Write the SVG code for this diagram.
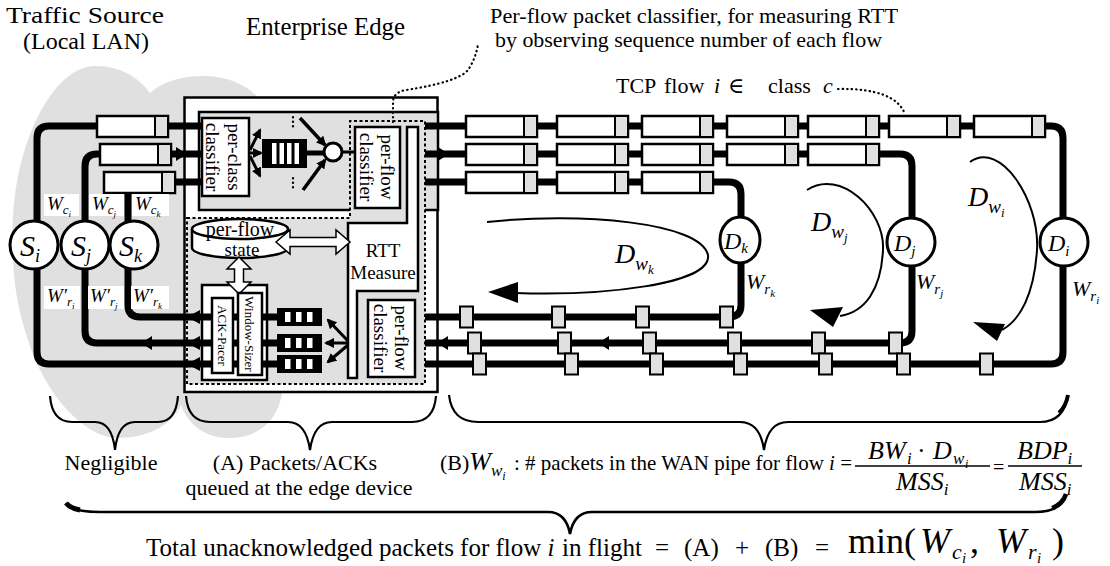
<svg xmlns="http://www.w3.org/2000/svg" width="1110" height="566" viewBox="0 0 1110 566" font-family="'Liberation Serif','Times New Roman',serif">
<defs>
<style>
text{font-family:'Liberation Serif','Times New Roman','DejaVu Serif',serif;fill:#000}
.i{font-style:italic}
.n{font-style:normal}
.ln{fill:none;stroke:#000;stroke-width:7;stroke-linejoin:round}
.ln5{fill:none;stroke:#000;stroke-width:5}
.thin{fill:none;stroke:#000;stroke-width:3}
.box{fill:#fff;stroke:#000;stroke-width:2.5}
.pk{fill:#fff;stroke:#000;stroke-width:2.5}
.pkg{fill:#e0e0e0;stroke:#000;stroke-width:2}
.gr{fill:#e0e0e0}
.dot{fill:none;stroke:#000;stroke-width:2.2;stroke-dasharray:0.5 4;stroke-linecap:round}
.dash{stroke:#000;stroke-width:2;stroke-dasharray:3 2.5}
.circ{fill:#fff;stroke:#000;stroke-width:3}
.cv{fill:none;stroke:#000;stroke-width:2}
.br{fill:none;stroke:#000;stroke-width:2.2}
.hol{fill:#fff;stroke:#000;stroke-width:1.5}
.lbl{fill:#fff}
.q{fill:#000}
.slot{fill:#fff}
</style>
<marker id="ah" viewBox="0 0 10 10" refX="8" refY="5" markerWidth="10" markerHeight="10" markerUnits="userSpaceOnUse" orient="auto"><path d="M0,0 L10,5 L0,10 z" fill="#000"/></marker>
<g id="pkt"><rect width="71" height="21" class="pk"/><rect x="58" width="13" height="21" class="pkg"/></g>
<rect id="ak" width="13" height="21" class="pkg"/>
</defs>
<rect width="1110" height="566" fill="#fff"/>

<!-- cloud (Local LAN) -->
<path class="gr" d="M13,250 C8,150 52,66 95,66 C122,66 140,79 150,93 C162,81 185,75 208,76 C250,79 278,105 282,160 L283,380 C283,420 258,438 230,438 C205,438 188,425 181,405 C172,425 148,438 118,438 C85,438 45,395 28,340 C16,305 13,275 13,250 Z"/>

<!-- enterprise edge device frame -->
<g id="edge-device">
<rect x="184.5" y="97.5" width="253" height="294.5" class="box"/>
<rect x="199" y="112" width="239" height="98" fill="#e0e0e0" stroke="#000" stroke-width="2.5"/>
<path d="M187,218 H350 V121 H425 V384 H187 Z" fill="#e0e0e0" class="dash"/>
<rect x="202" y="285" width="65" height="95" class="box"/>
</g>

<g id="connectors">
<path class="ln" d="M37,221 V138 Q37,126 49,126 H202"/>
<path class="ln" d="M85,221 V166 Q85,154 97,154 H202"/>
<path class="ln" d="M128,221 V193"/>
<path class="ln" d="M170,182 H202"/>
<path class="ln" d="M277,364 H49 Q37,364 37,352 V269"/>
<path class="ln" d="M277,343 H97 Q85,343 85,331 V269"/>
<path class="ln" d="M277,317 H140 Q128,317 128,305 V269"/>
<path class="ln" d="M425,126 H1051 Q1063,126 1063,138 V352 Q1063,364 1051,364 H425"/>
<path class="ln" d="M425,154 H900 Q912,154 912,166 V331 Q912,343 900,343 H425"/>
<path class="ln" d="M425,182 H729 Q741,182 741,194 V305 Q741,317 729,317 H425"/>
<polygon points="176,147 187,154 176,161"/>
<polygon points="438,147 449,154 438,161"/>
<polygon points="437,343 448,336 448,350"/>
<polygon points="598,343 609,336 609,350"/>
<polygon points="141,343 152,336 152,350"/>
<polygon points="187,317 200,310 200,324"/>
<polygon points="187,343 200,336 200,350"/>
<polygon points="187,364 200,357 200,371"/>
<path class="thin" d="M250,150 L260,130" marker-end="url(#ah)"/>
<path class="thin" d="M250,153 H261" marker-end="url(#ah)"/>
<path class="thin" d="M250,156 L260,176" marker-end="url(#ah)"/>
<path class="ln5" d="M305,153 H326"/>
<path fill="none" stroke="#000" stroke-width="3.5" d="M300,118 L325,145" marker-end="url(#ah)"/>
<path fill="none" stroke="#000" stroke-width="3.5" d="M303,190 L325,160" marker-end="url(#ah)"/>
<path class="thin" d="M342,152 H355"/>
<path class="dot" d="M293,117 V129 M293,178 V190"/>
<path class="thin" d="M348,341 L328,320" marker-end="url(#ah)"/>
<path class="thin" d="M348,343 H326" marker-end="url(#ah)"/>
<path class="thin" d="M348,345 L328,362" marker-end="url(#ah)"/>
<path class="cv" d="M487,222 C580,212 700,222 708,255 C712,285 600,296 515,293"/>
<polygon points="488,292 518,282 518,303"/>
<path class="cv" d="M807,190 C840,168 885,210 883,250 C881,290 865,312 840,316"/>
<polygon points="810,310 843,307 833,327"/>
<path class="cv" d="M970,162 C1000,140 1040,200 1037,250 C1034,295 1020,320 1002,330"/>
<polygon points="973,322 1005,324 997,341"/>
<path class="dot" d="M393,122 V101 Q394,92 406,90 Q458,82 468,70 Q476,58 478,44"/>
<path class="dot" d="M838,89 Q895,88 905,114"/>
<path class="br" d="M50,396 Q52,422 72,422 L95,422 Q112,422 115,450 Q118,422 135,422 L158,422 Q176,422 178,396"/>
<path class="br" d="M186,396 Q188,422 210,422 L288,422 Q306,422 310,450 Q314,422 332,422 L412,422 Q434,422 436,396"/>
<path class="br" d="M449,395 Q452,422 478,422 L740,422 Q760,422 764,450 Q768,422 788,422 L1040,422 Q1064,422 1068,395"/>
<path fill="none" stroke="#000" stroke-width="4" d="M1059,413 Q1066,406 1068,395"/>
<path fill="none" stroke="#000" stroke-width="2.6" d="M66,503 Q72,512 100,512 L548,512 Q566,512 570,534 Q574,512 592,512 L1035,512 Q1062,512 1066,494"/>
<path fill="none" stroke="#000" stroke-width="5" d="M66,503 Q70,508 80,510"/>
<path fill="none" stroke="#000" stroke-width="4.5" d="M1052,508 Q1063,504 1066,494"/>
</g>

<g id="src-packets">
<use href="#pkt" x="97" y="116"/>
<use href="#pkt" x="100" y="144"/>
<use href="#pkt" x="104" y="172"/>
</g>

<g id="wan-packets">
<use href="#pkt" x="466" y="116"/><use href="#pkt" x="557" y="116"/><use href="#pkt" x="642" y="116"/><use href="#pkt" x="727" y="116"/><use href="#pkt" x="808" y="116"/><use href="#pkt" x="889" y="116"/><use href="#pkt" x="974" y="116"/>
<use href="#pkt" x="466" y="144"/><use href="#pkt" x="557" y="144"/><use href="#pkt" x="642" y="144"/><use href="#pkt" x="727" y="144"/><use href="#pkt" x="808" y="144"/>
<use href="#pkt" x="466" y="172"/><use href="#pkt" x="557" y="172"/><use href="#pkt" x="642" y="172"/>
</g>

<g id="wan-acks">
<use href="#ak" x="460" y="306.5"/><use href="#ak" x="552" y="306.5"/><use href="#ak" x="636" y="306.5"/><use href="#ak" x="720" y="306.5"/>
<use href="#ak" x="468" y="332.5"/><use href="#ak" x="558" y="332.5"/><use href="#ak" x="643" y="332.5"/><use href="#ak" x="728" y="332.5"/><use href="#ak" x="812" y="332.5"/><use href="#ak" x="889" y="332.5"/>
<use href="#ak" x="473" y="353.5"/><use href="#ak" x="565" y="353.5"/><use href="#ak" x="650" y="353.5"/><use href="#ak" x="734" y="353.5"/><use href="#ak" x="819" y="353.5"/><use href="#ak" x="897" y="353.5"/><use href="#ak" x="980" y="353.5"/>
</g>

<g id="source-i"><circle cx="34" cy="245" r="24" class="circ"/><text x="20" y="256" font-size="30" class="i">S<tspan font-size="18" dy="6">i</tspan></text></g>
<g id="source-j"><circle cx="85" cy="245" r="24" class="circ"/><text x="71" y="256" font-size="30" class="i">S<tspan font-size="18" dy="6">j</tspan></text></g>
<g id="source-k"><circle cx="134" cy="245" r="24" class="circ"/><text x="119" y="256" font-size="30" class="i">S<tspan font-size="18" dy="6">k</tspan></text></g>

<g id="source-labels">
<rect x="44" y="194" width="35" height="22" class="lbl"/><text x="47" y="210" font-size="19" class="i">W<tspan font-size="13" dy="4">c</tspan><tspan font-size="9" dy="3">i</tspan></text>
<rect x="89" y="194" width="35" height="22" class="lbl"/><text x="92" y="210" font-size="19" class="i">W<tspan font-size="13" dy="4">c</tspan><tspan font-size="9" dy="3">j</tspan></text>
<rect x="132" y="194" width="37" height="22" class="lbl"/><text x="135" y="210" font-size="19" class="i">W<tspan font-size="13" dy="4">c</tspan><tspan font-size="9" dy="3">k</tspan></text>
<rect x="44" y="286" width="36" height="23" class="lbl"/><text x="47" y="302" font-size="19" class="i">W′<tspan font-size="13" dy="4">r</tspan><tspan font-size="9" dy="3">i</tspan></text>
<rect x="88" y="286" width="36" height="23" class="lbl"/><text x="90" y="302" font-size="19" class="i">W′<tspan font-size="13" dy="4">r</tspan><tspan font-size="9" dy="3">j</tspan></text>
<rect x="131" y="286" width="38" height="23" class="lbl"/><text x="133" y="302" font-size="19" class="i">W′<tspan font-size="13" dy="4">r</tspan><tspan font-size="9" dy="3">k</tspan></text>
</g>

<g id="per-class-classifier">
<rect x="202" y="118" width="47" height="78" class="box"/>
<text font-size="19" text-anchor="middle" transform="translate(228,157) rotate(90)">per-class</text>
<text font-size="19" text-anchor="middle" transform="translate(206,157) rotate(90)">classifier</text>
</g>
<g id="class-queue">
<rect x="262" y="139" width="45" height="29" class="q"/>
<rect x="272" y="143" width="4.5" height="21" class="slot"/><rect x="279.5" y="143" width="4.5" height="21" class="slot"/><rect x="287" y="143" width="4.5" height="21" class="slot"/><rect x="294.5" y="143" width="4.5" height="21" class="slot"/>
</g>
<g id="scheduler"><circle cx="333" cy="152" r="9" class="circ"/></g>
<g id="per-flow-classifier-out">
<rect x="355" y="127" width="45" height="81" class="box"/>
<text font-size="19" text-anchor="middle" transform="translate(381,167) rotate(90)">per-flow</text>
<text font-size="19" text-anchor="middle" transform="translate(360,167) rotate(90)">classifier</text>
</g>
<g id="rtt-measure">
<polygon points="407,127 418,127 418,291 357,291 357,378 348,378 348,223 407,223" class="box"/>
<text x="383" y="257" font-size="19" text-anchor="middle">RTT</text>
<text x="383" y="279" font-size="19" text-anchor="middle">Measure</text>
</g>
<g id="per-flow-classifier-in">
<rect x="368" y="300" width="47" height="77" class="box"/>
<text font-size="19" text-anchor="middle" transform="translate(395,338) rotate(90)">per-flow</text>
<text font-size="19" text-anchor="middle" transform="translate(374,338) rotate(90)">classifier</text>
</g>
<g id="per-flow-state">
<path d="M192,229 V248 A48,10 0 0 0 288,248 V229" fill="#fff" stroke="#000" stroke-width="2.5"/>
<ellipse cx="240" cy="229" rx="48" ry="10" fill="#fff" stroke="#000" stroke-width="2.5"/>
<text x="240" y="236" font-size="20" text-anchor="middle">per-flow</text>
<text x="242" y="256" font-size="19" text-anchor="middle">state</text>
<polygon class="hol" points="276,242 290,230 290,237.5 336,237.5 336,230 350,242 336,254 336,246.5 290,246.5 290,254"/>
<polygon class="hol" points="239,257 251,269 243.5,269 243.5,282 251,282 239,294 227,282 234.5,282 234.5,269 227,269"/>
</g>
<g id="ack-pacer">
<rect x="212" y="298" width="21" height="75" class="box"/>
<text font-size="13" text-anchor="middle" transform="translate(218,335.5) rotate(90)">ACK-Pacer</text>
</g>
<g id="window-sizer">
<rect x="238" y="293" width="24" height="82" class="box"/>
<text font-size="13" text-anchor="middle" transform="translate(245,334) rotate(90)">Window-Sizer</text>
</g>
<g id="ack-queues">
<rect x="277" y="308" width="45" height="18" class="q"/><rect x="285" y="312" width="5.5" height="10" class="slot"/><rect x="296" y="312" width="5.5" height="10" class="slot"/><rect x="307" y="312" width="5.5" height="10" class="slot"/>
<rect x="277" y="334" width="45" height="18" class="q"/><rect x="285" y="338" width="5.5" height="10" class="slot"/><rect x="296" y="338" width="5.5" height="10" class="slot"/><rect x="307" y="338" width="5.5" height="10" class="slot"/>
<rect x="277" y="355" width="45" height="18" class="q"/><rect x="285" y="359" width="5.5" height="10" class="slot"/><rect x="296" y="359" width="5.5" height="10" class="slot"/><rect x="307" y="359" width="5.5" height="10" class="slot"/>
</g>

<g id="delay-k"><ellipse cx="740" cy="240" rx="20" ry="23" class="circ"/><text x="724" y="249" font-size="24" class="i">D<tspan font-size="15" dy="4">k</tspan></text></g>
<g id="delay-j"><circle cx="911" cy="242" r="24" class="circ"/><text x="894" y="251" font-size="24" class="i">D<tspan font-size="15" dy="5">j</tspan></text></g>
<g id="delay-i"><circle cx="1064" cy="242" r="24" class="circ"/><text x="1048" y="251" font-size="24" class="i">D<tspan font-size="15" dy="5">i</tspan></text></g>

<g id="wan-labels">
<text x="746" y="289" font-size="22" class="i">W<tspan font-size="15" dy="5">r</tspan><tspan font-size="11" dy="3">k</tspan></text>
<text x="916" y="289" font-size="22" class="i">W<tspan font-size="15" dy="5">r</tspan><tspan font-size="11" dy="3">j</tspan></text>
<text x="1072" y="296" font-size="22" class="i">W<tspan font-size="15" dy="5">r</tspan><tspan font-size="11" dy="3">i</tspan></text>
<text x="615" y="263" font-size="28" class="i">D<tspan font-size="19" dy="7">w</tspan><tspan font-size="13" dy="4">k</tspan></text>
<text x="811" y="231" font-size="28" class="i">D<tspan font-size="19" dy="7">w</tspan><tspan font-size="13" dy="4">j</tspan></text>
<text x="968" y="206" font-size="28" class="i">D<tspan font-size="19" dy="7">w</tspan><tspan font-size="13" dy="4">i</tspan></text>
</g>

<g id="titles">
<text x="6" y="23" font-size="24" textLength="158" lengthAdjust="spacingAndGlyphs">Traffic Source</text>
<text x="86" y="49" font-size="24" text-anchor="middle">(Local LAN)</text>
<text x="246" y="35" font-size="25" textLength="159" lengthAdjust="spacingAndGlyphs">Enterprise Edge</text>
<text x="490" y="23" font-size="22" textLength="408" lengthAdjust="spacingAndGlyphs">Per-flow packet classifier, for measuring RTT</text>
<text x="495" y="47" font-size="22" textLength="387" lengthAdjust="spacingAndGlyphs">by observing sequence number of each flow</text>
<text y="93" font-size="22"><tspan x="616">TCP</tspan><tspan x="664">flow</tspan><tspan x="714" class="i">i</tspan><tspan x="728">∈</tspan><tspan x="768">class</tspan><tspan x="823" class="i">c</tspan></text>
</g>

<g id="bottom-text">
<text x="111" y="470" font-size="22" text-anchor="middle">Negligible</text>
<text x="295" y="470" font-size="22" text-anchor="middle">(A) Packets/ACKs</text>
<text x="299" y="495" font-size="22" text-anchor="middle">queued at the edge device</text>
<text x="440" y="470" font-size="22">(B)<tspan class="i" font-size="26">W</tspan><tspan class="i" font-size="17" dy="6">w</tspan><tspan class="i" font-size="12" dy="4">i</tspan></text>
<text x="514" y="470" font-size="21" textLength="338" lengthAdjust="spacing">: # packets in the WAN pipe for flow <tspan class="i">i</tspan> =</text>
<text y="459" font-size="26" class="i"><tspan x="868">BW</tspan><tspan x="907" font-size="17" dy="5">i</tspan><tspan x="917" class="n" dy="-5">·</tspan><tspan x="933">D</tspan><tspan x="953" font-size="17" dy="5">w</tspan><tspan x="965" font-size="12" dy="4">i</tspan></text>
<line x1="855" y1="466" x2="990" y2="466" stroke="#000" stroke-width="1.5"/>
<text x="896" y="490" font-size="26" class="i">MSS<tspan font-size="17" dy="5">i</tspan></text>
<text x="993" y="474" font-size="20">=</text>
<text x="1017" y="459" font-size="26" class="i">BDP<tspan font-size="17" dy="5">i</tspan></text>
<line x1="1008" y1="466" x2="1082" y2="466" stroke="#000" stroke-width="1.5"/>
<text x="1019" y="490" font-size="26" class="i">MSS<tspan font-size="17" dy="5">i</tspan></text>
<text x="146" y="556" font-size="25">Total unacknowledged packets for flow <tspan class="i">i</tspan></text>
<text y="556" font-size="25"><tspan x="562">in flight</tspan><tspan x="655">=</tspan><tspan x="684">(A)</tspan><tspan x="735">+</tspan><tspan x="765">(B)</tspan><tspan x="815">=</tspan></text>
<text y="553" font-size="36"><tspan x="848">min(</tspan><tspan x="920" class="i">W</tspan><tspan x="952" class="i" font-size="22" dy="6">c</tspan><tspan x="962" class="i" font-size="15" dy="4">i</tspan><tspan x="970" dy="-10">,</tspan><tspan x="996" class="i">W</tspan><tspan x="1028" class="i" font-size="22" dy="6">r</tspan><tspan x="1037" class="i" font-size="15" dy="4">i</tspan><tspan x="1052" dy="-10">)</tspan></text>
</g>
</svg>
